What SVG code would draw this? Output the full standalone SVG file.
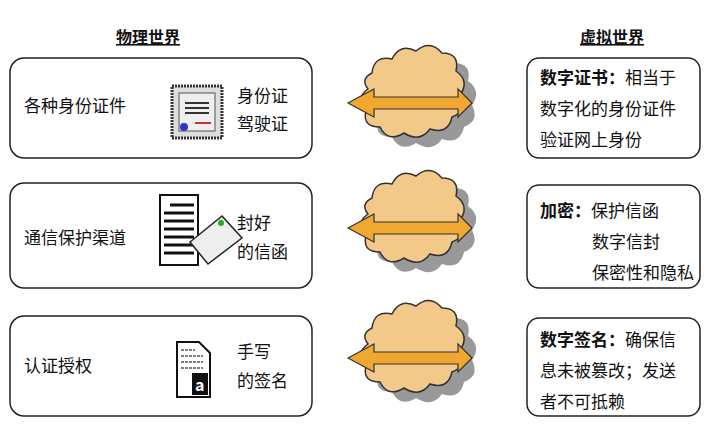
<svg xmlns="http://www.w3.org/2000/svg" width="720" height="445" viewBox="0 0 720 445">
<style>
text{font-family:"Noto Sans CJK SC","Liberation Sans",sans-serif;font-size:17px;fill:#111}
.h{font-weight:bold;font-size:16px;text-decoration:underline}
.b{font-weight:bold}
.box{fill:#fff;stroke:#222;stroke-width:1.5}
.cl{fill:#f3c98a;stroke:#333;stroke-width:1.5}
.sh{fill:#999}
.ar{fill:#f0a830;stroke:#333;stroke-width:1.2}
</style>
<defs>
<path id="cloud" d="M-38,-30 q2,-18 20,-14 q8,-16 24,-8 q14,-12 26,2 q18,0 14,18 q14,10 4,24 q8,16 -8,22 q-4,18 -22,12 q-10,14 -26,4 q-16,10 -24,-6 q-18,0 -14,-16 q-12,-12 2,-22 q-8,-10 4,-16z"/>
<g id="cw">
<use href="#cloud" class="sh" transform="translate(12,10)"/>
<use href="#cloud" class="cl"/>
<path class="ar" d="M-62,0 L-36,-14 L-36,-6 L48,-6 L48,-14 L62,0 L48,14 L48,6 L-36,6 L-36,14Z"/>
</g>
</defs>
<rect width="720" height="445" fill="#fff"/>
<text class="h" x="148" y="43" text-anchor="middle">物理世界</text>
<text class="h" x="612" y="43" text-anchor="middle">虚拟世界</text>
<g id="p1"><rect class="box" x="10" y="58" width="302" height="100" rx="14"/>
<text x="24" y="112">各种身份证件</text>
<rect x="172" y="86" width="50" height="52" fill="#ddd" stroke="#333" stroke-width="3" stroke-dasharray="2,1"/>
<rect x="179" y="93" width="36" height="38" fill="#eee" stroke="#555"/>
<path d="M185,103h24M185,108h24M185,113h24" stroke="#333" stroke-width="2"/>
<circle cx="184" cy="127" r="4" fill="#33c"/><path d="M195,123h16" stroke="#c33" stroke-width="2"/>
<text x="237" y="102">身份证</text><text x="237" y="130">驾驶证</text></g>
<g id="p2"><rect class="box" x="10" y="183" width="302" height="105" rx="14"/>
<text x="24" y="244">通信保护渠道</text>
<rect x="160" y="195" width="38" height="70" fill="#fff" stroke="#111" stroke-width="2"/>
<path d="M170,205h24M164,213h30M164,221h30M164,229h30M164,237h30M164,245h30M164,253h30" stroke="#111" stroke-width="3"/>
<path d="M190,242 L222,216 L242,238 L208,264Z" fill="#eee" stroke="#222" stroke-width="1.5"/>
<circle cx="221" cy="223" r="3" fill="#2a2"/>
<text x="237" y="229">封好</text><text x="237" y="258">的信函</text></g>
<g id="p3"><rect class="box" x="10" y="316" width="302" height="100" rx="14"/>
<text x="24" y="372">认证授权</text>
<path d="M177,342h22l11,11v44h-33Z" fill="#fff" stroke="#111" stroke-width="2"/>
<path d="M181,350h14M181,356h22M181,362h22M181,368h22" stroke="#555" stroke-width="1.5" stroke-dasharray="3,1"/>
<rect x="192" y="373" width="16" height="22" fill="#111"/><text x="195" y="391" style="font-size:16px;fill:#fff;font-weight:bold">a</text>
<text x="237" y="358">手写</text><text x="237" y="387">的签名</text></g>
<g id="connectors">
<use href="#cw" x="410" y="103"/>
<use href="#cw" x="410" y="228"/>
<use href="#cw" x="410" y="358"/>
</g>
<g id="v1"><rect class="box" x="527" y="58" width="173" height="100" rx="12"/>
<text x="540" y="84"><tspan class="b">数字证书：</tspan>相当于</text>
<text x="540" y="115">数字化的身份证件</text>
<text x="540" y="146">验证网上身份</text></g>
<g id="v2"><rect class="box" x="527" y="185" width="173" height="103" rx="12"/>
<text x="540" y="217"><tspan class="b">加密：</tspan>保护信函</text>
<text x="592" y="248">数字信封</text>
<text x="592" y="279">保密性和隐私</text></g>
<g id="v3"><rect class="box" x="527" y="318" width="173" height="98" rx="12"/>
<text x="540" y="346"><tspan class="b">数字签名：</tspan>确保信</text>
<text x="540" y="377">息未被篡改；发送</text>
<text x="540" y="408">者不可抵赖</text></g>
</svg>
